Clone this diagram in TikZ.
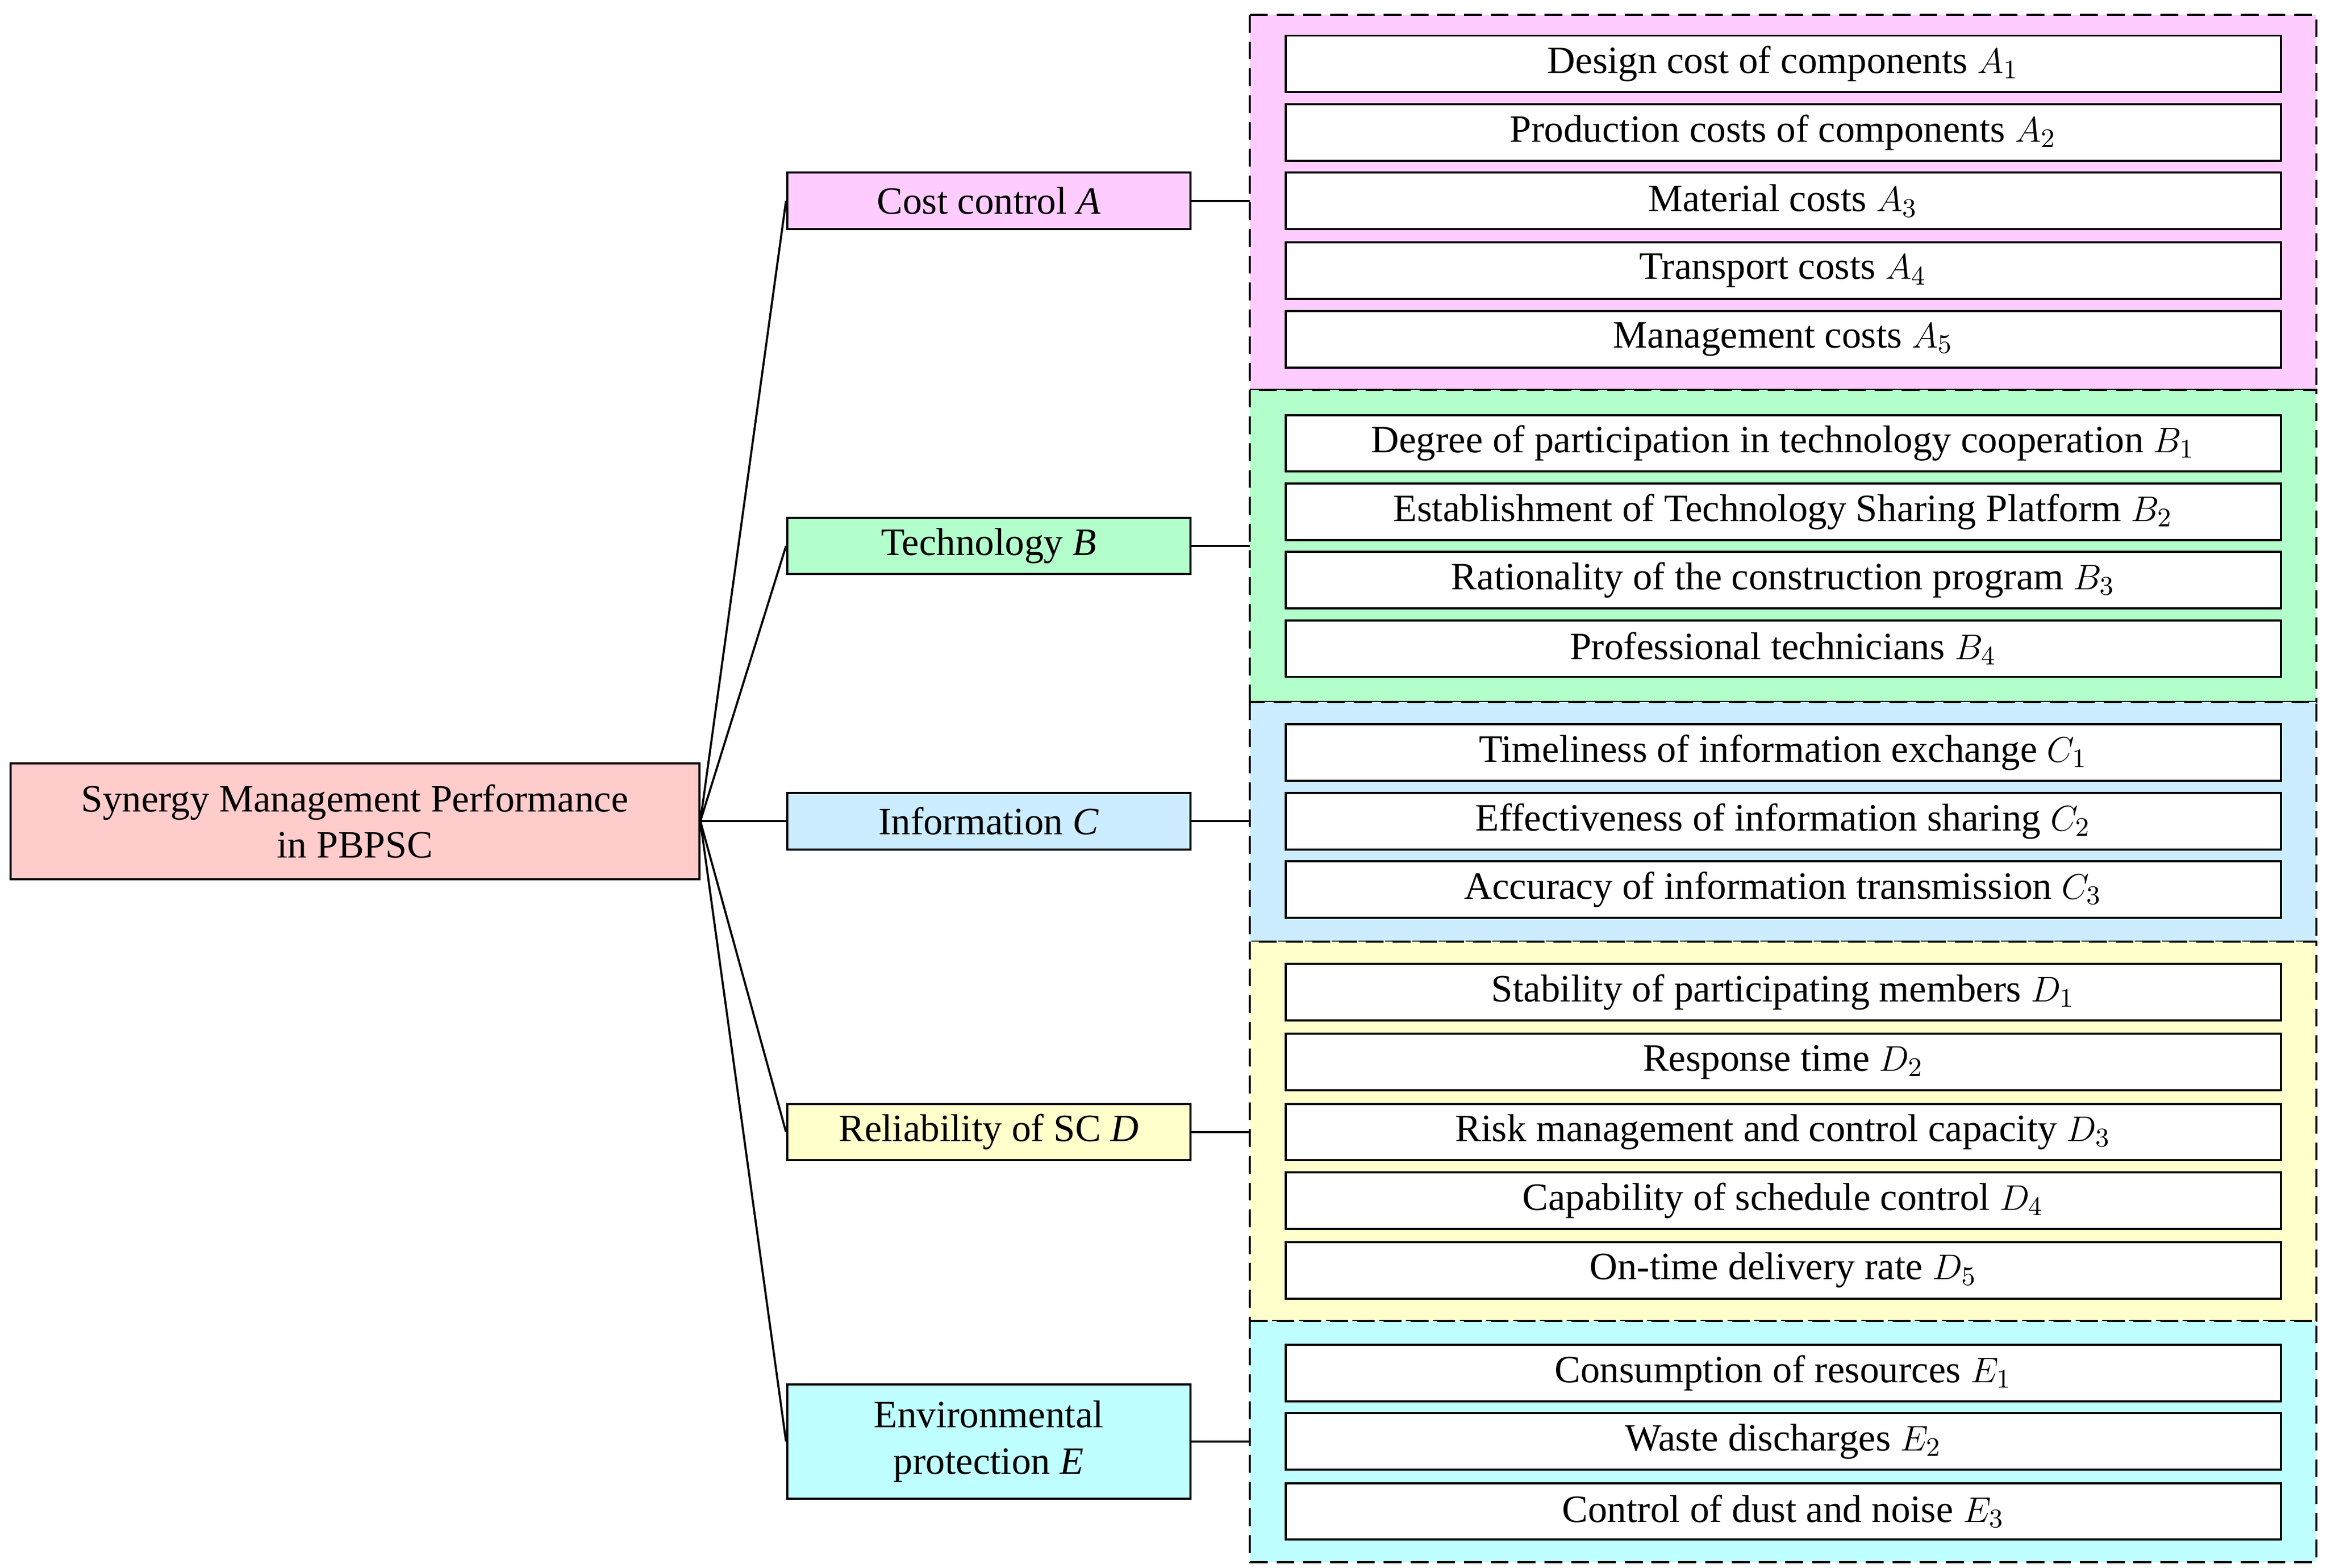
\documentclass[tikz,border=0pt]{standalone}
\usepackage{fontspec}
\setmainfont{Liberation Serif}
\begin{document}
\begin{tikzpicture}[x=0.5pt,y=-0.5pt,
  box/.style={draw,line width=0.7pt,inner sep=0pt,font=\fontsize{13}{15.5}\selectfont,align=center},
  item/.style={box,fill=white,minimum width=334.5pt,minimum height=19pt},
  mid/.style={box,minimum width=135.5pt,minimum height=19pt},
  grp/.style={draw,dash pattern=on 6pt off 3pt,line width=0.7pt},
  ln/.style={line width=0.7pt}]
\definecolor{cA}{RGB}{255,204,255}
\definecolor{cB}{RGB}{179,255,204}
\definecolor{cC}{RGB}{204,236,255}
\definecolor{cD}{RGB}{255,255,204}
\definecolor{cE}{RGB}{191,255,255}
\definecolor{cR}{RGB}{255,204,204}
\useasboundingbox (0,0) rectangle (1564,1054);
\draw[grp,fill=cA] (840,10) rectangle (1557,262);
\draw[grp,fill=cB] (840,262) rectangle (1557,472);
\draw[grp,fill=cC] (840,472) rectangle (1557,633);
\draw[grp,fill=cD] (840,633) rectangle (1557,888);
\draw[grp,fill=cE] (840,888) rectangle (1557,1050);
\node[box,fill=cR,minimum width=231.5pt,minimum height=39pt] (root) at (238.5,552) {Synergy Management Performance\\in PBPSC};
\node[mid,fill=cA] (A) at (664.5,135) {Cost control \textit{A}};
\node[mid,fill=cB] (B) at (664.5,367) {Technology \textit{B}};
\node[mid,fill=cC] (C) at (664.5,552) {Information \textit{C}};
\node[mid,fill=cD] (D) at (664.5,761) {Reliability of SC \textit{D}};
\node[mid,fill=cE,minimum height=38.5pt] (E) at (664.5,969) {Environmental\\protection \textit{E}};
\foreach \m/\y in {A/135,B/367,C/552,D/761,E/969}{
  \coordinate (g\m) at (840,\y);
  \draw[ln] (root.east) -- (\m.west);
  \draw[ln] (\m.east) -- (g\m);
}
\node[item] (A1) at (1198.5,43) {Design cost of components $A_{1}$};
\node[item] (A2) at (1198.5,89) {Production costs of components $A_{2}$};
\node[item] (A3) at (1198.5,135) {Material costs $A_{3}$};
\node[item] (A4) at (1198.5,182) {Transport costs $A_{4}$};
\node[item] (A5) at (1198.5,228) {Management costs $A_{5}$};
\node[item] (B1) at (1198.5,298) {Degree of participation in technology cooperation $B_{1}$};
\node[item] (B2) at (1198.5,344) {Establishment of Technology Sharing Platform $B_{2}$};
\node[item] (B3) at (1198.5,390) {Rationality of the construction program $B_{3}$};
\node[item] (B4) at (1198.5,436) {Professional technicians $B_{4}$};
\node[item] (C1) at (1198.5,506) {Timeliness of information exchange $C_{1}$};
\node[item] (C2) at (1198.5,552) {Effectiveness of information sharing $C_{2}$};
\node[item] (C3) at (1198.5,598) {Accuracy of information transmission $C_{3}$};
\node[item] (D1) at (1198.5,667) {Stability of participating members $D_{1}$};
\node[item] (D2) at (1198.5,714) {Response time $D_{2}$};
\node[item] (D3) at (1198.5,761) {Risk management and control capacity $D_{3}$};
\node[item] (D4) at (1198.5,807) {Capability of schedule control $D_{4}$};
\node[item] (D5) at (1198.5,854) {On-time delivery rate $D_{5}$};
\node[item] (E1) at (1198.5,923) {Consumption of resources $E_{1}$};
\node[item] (E2) at (1198.5,969) {Waste discharges $E_{2}$};
\node[item] (E3) at (1198.5,1016) {Control of dust and noise $E_{3}$};
\end{tikzpicture}
\end{document}
